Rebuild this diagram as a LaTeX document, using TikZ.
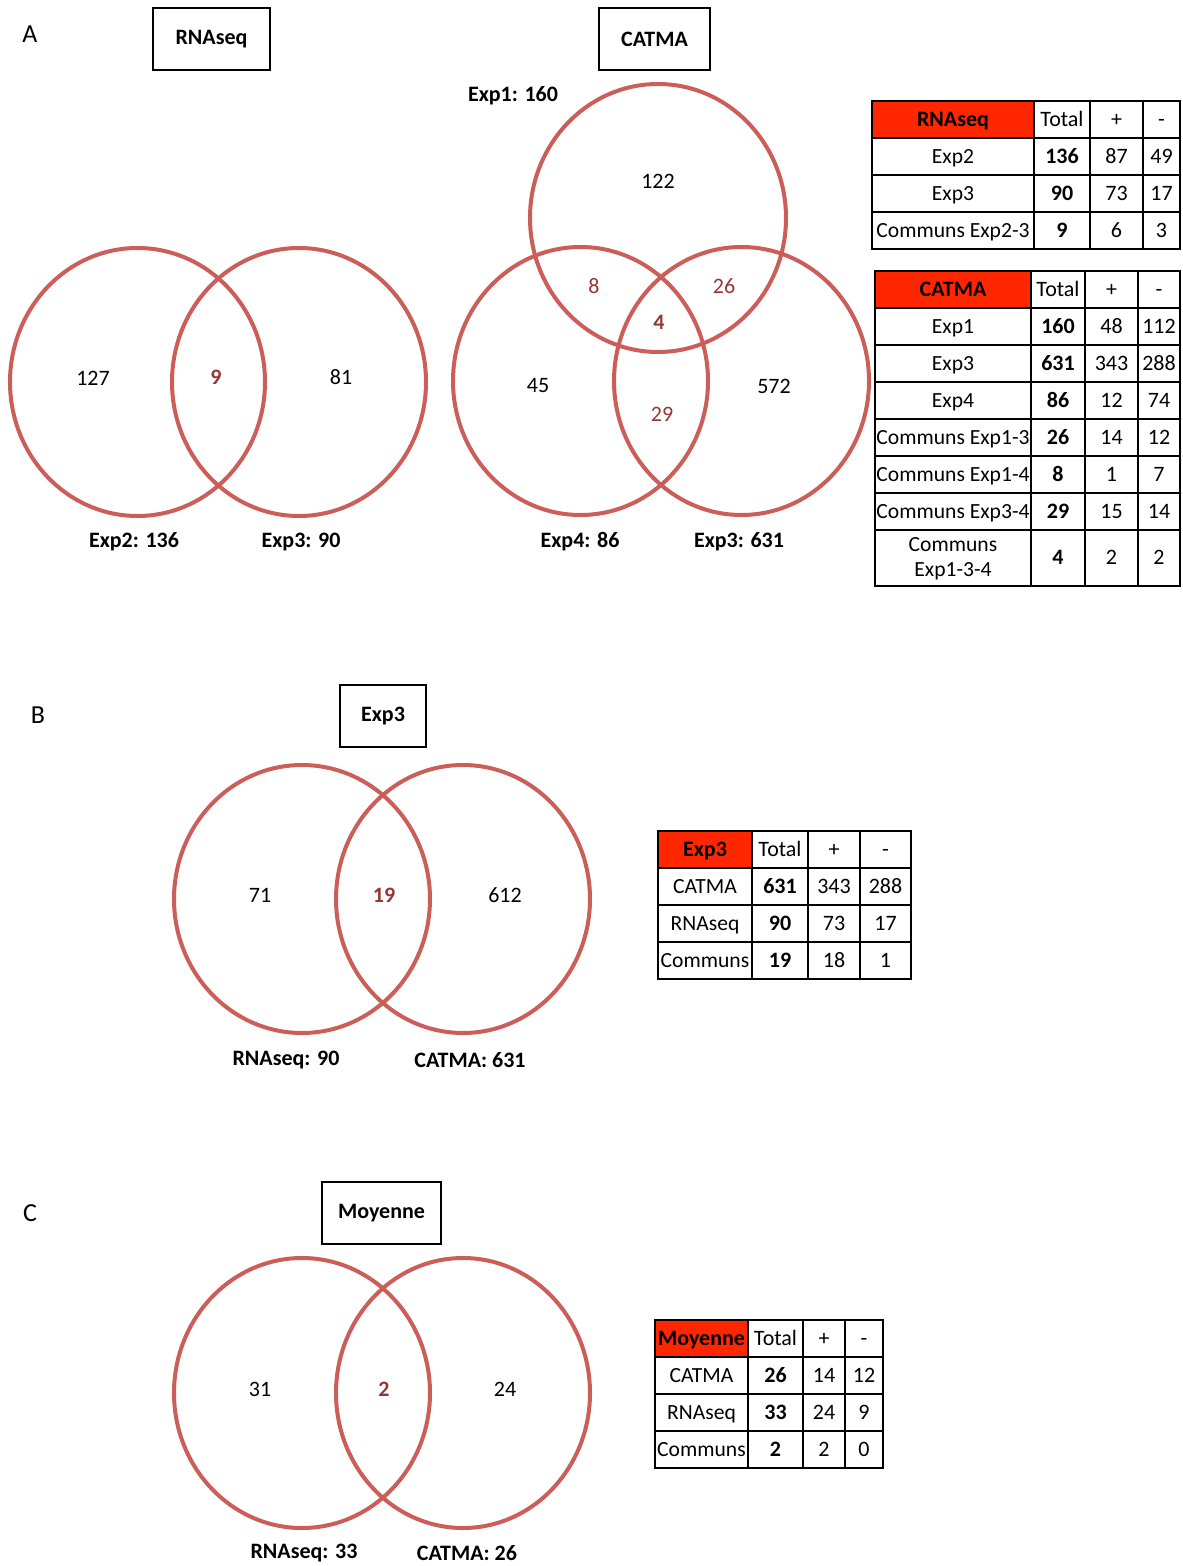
\documentclass[tikz,border=0pt]{standalone}
\usepackage{fontspec}
\setmainfont{Carlito}
\definecolor{vennline}{RGB}{203,94,89}
\definecolor{vennnum}{RGB}{149,55,53}
\definecolor{headred}{RGB}{255,38,0}

\tikzset{
  venn/.style={draw=vennline, line width=2pt},
  titlebox/.style={draw, line width=1pt, font=\bfseries, minimum height=31pt},
  setlabel/.style={font=\bfseries},
  inter/.style={text=vennnum},
  letter/.style={font=\fontsize{13}{15}\selectfont},
  tabline/.style={line width=1pt},
  cell/.style={text height=1.6ex, text depth=0.3ex, inner sep=0pt},
}

% ligne de tableau : colonnes \ca..\ce fixees avant chaque tableau
\newcommand{\headrow}[3]{%
  \fill[headred] (\ca,#1) rectangle (\cb,#2);
  \draw[tabline] (\ca,#1) rectangle (\ce,#2);
  \draw[tabline] (\cb,#1) -- (\cb,#2) (\cc,#1) -- (\cc,#2) (\cd,#1) -- (\cd,#2);
  \node[cell, font=\bfseries] at ({(\ca+\cb)/2},{(#1+#2)/2}) {#3};
  \node[cell] at ({(\cb+\cc)/2},{(#1+#2)/2}) {Total};
  \node[cell] at ({(\cc+\cd)/2},{(#1+#2)/2}) {+};
  \node[cell] at ({(\cd+\ce)/2},{(#1+#2)/2}) {-};
}
\newcommand{\cellrow}[6]{%
  \draw[tabline] (\ca,#1) rectangle (\ce,#2);
  \draw[tabline] (\cb,#1) -- (\cb,#2) (\cc,#1) -- (\cc,#2) (\cd,#1) -- (\cd,#2);
  \node[cell, font=\fontsize{10.8}{12.5}\selectfont] at ({(\ca+\cb)/2},{(#1+#2)/2}) {#3};
  \node[cell, font=\bfseries] at ({(\cb+\cc)/2},{(#1+#2)/2}) {#4};
  \node[cell] at ({(\cc+\cd)/2},{(#1+#2)/2}) {#5};
  \node[cell] at ({(\cd+\ce)/2},{(#1+#2)/2}) {#6};
}

\begin{document}
\fontsize{11}{12.5}\selectfont
\begin{tikzpicture}[x=0.5pt, y=-0.5pt]
    \useasboundingbox (0,0) rectangle (1182,1566);

    % ===== A =====
    \node[letter] (lettreA) at (30,34) {A};
    \node[titlebox, minimum width=58.5pt] (titreRna) at (211.5,39) {RNAseq};
    \node[titlebox, minimum width=55.5pt] (titreCatma) at (654.5,39) {CATMA};

    % Venn RNAseq
    \draw[venn] (137.5,382) ellipse [x radius=127.5, y radius=134];
    \draw[venn] (299,382) ellipse [x radius=127, y radius=134];
    \node (rnaA) at (93,378) {127};
    \node[inter, font=\bfseries] (rnaAB) at (216,377) {9};
    \node (rnaB) at (341,377) {81};
    \node[setlabel] (lblExp2) at (134,542) {Exp2: 136};
    \node[setlabel] (lblExp3r) at (301,542) {Exp3: 90};

    % Venn CATMA
    \draw[venn] (658,218) ellipse [x radius=128, y radius=134];
    \draw[venn] (580.5,381) ellipse [x radius=127.5, y radius=134];
    \draw[venn] (741.5,381) ellipse [x radius=127.5, y radius=134];
    \node (catE1) at (658,181) {122};
    \node[inter] (catE14) at (594,286) {8};
    \node[inter] (catE13) at (724,286) {26};
    \node[inter, font=\bfseries] (catE134) at (659,322) {4};
    \node (catE4) at (538,386) {45};
    \node (catE3) at (774,386) {572};
    \node[inter] (catE34) at (662,414) {29};
    \node[setlabel] (lblExp1) at (513,96) {Exp1: 160};
    \node[setlabel] (lblExp4) at (580,542) {Exp4: 86};
    \node[setlabel] (lblExp3c) at (739,542) {Exp3: 631};

    % Tableau RNAseq
    \def\ca{872}\def\cb{1034}\def\cc{1090}\def\cd{1143}\def\ce{1180}
    \headrow{101}{138}{RNAseq}
    \cellrow{138}{175}{Exp2}{136}{87}{49}
    \cellrow{175}{212}{Exp3}{90}{73}{17}
    \cellrow{212}{249}{Communs Exp2-3}{9}{6}{3}

    % Tableau CATMA
    \def\ca{875}\def\cb{1031}\def\cc{1085}\def\cd{1138}\def\ce{1180}
    \headrow{271}{308}{CATMA}
    \cellrow{308}{345}{Exp1}{160}{48}{112}
    \cellrow{345}{382}{Exp3}{631}{343}{288}
    \cellrow{382}{419}{Exp4}{86}{12}{74}
    \cellrow{419}{456}{Communs Exp1-3}{26}{14}{12}
    \cellrow{456}{493}{Communs Exp1-4}{8}{1}{7}
    \cellrow{493}{530}{Communs Exp3-4}{29}{15}{14}
    \cellrow{530}{586}{}{4}{2}{2}
    \node[align=center, inner sep=0pt, font=\fontsize{10.8}{12.5}\selectfont] (com134) at (953,559) {Communs\\Exp1-3-4};

    % ===== B =====
    \node[letter] (lettreB) at (38,715) {B};
    \node[titlebox, minimum width=43pt] (titreExp3) at (383,716) {Exp3};
    \draw[venn] (302,899) ellipse [x radius=128, y radius=134];
    \draw[venn] (463,899) ellipse [x radius=127, y radius=134];
    \node (bA) at (260,895) {71};
    \node[inter, font=\bfseries] (bAB) at (384,895) {19};
    \node (bB) at (505,895) {612};
    \node[setlabel] (lblRnaB) at (286,1060) {RNAseq: 90};
    \node[setlabel] (lblCatB) at (470,1060) {CATMA: 631};

    % Tableau Exp3
    \def\ca{658}\def\cb{752}\def\cc{808}\def\cd{860}\def\ce{911}
    \headrow{831}{868}{Exp3}
    \cellrow{868}{905}{CATMA}{631}{343}{288}
    \cellrow{905}{942}{RNAseq}{90}{73}{17}
    \cellrow{942}{979}{Communs}{19}{18}{1}

    % ===== C =====
    \node[letter] (lettreC) at (30,1213) {C};
    \node[titlebox, minimum width=59.5pt] (titreMoy) at (381.5,1213) {Moyenne};
    \draw[venn] (302,1393) ellipse [x radius=128, y radius=135];
    \draw[venn] (463,1393) ellipse [x radius=127, y radius=135];
    \node (cA) at (260,1389) {31};
    \node[inter, font=\bfseries] (cAB) at (384,1389) {2};
    \node (cB) at (505,1389) {24};
    \node[setlabel] (lblRnaC) at (304,1553) {RNAseq: 33};
    \node[setlabel] (lblCatC) at (467,1553) {CATMA: 26};

    % Tableau Moyenne
    \def\ca{655}\def\cb{748}\def\cc{803}\def\cd{845}\def\ce{883}
    \headrow{1320}{1357}{Moyenne}
    \cellrow{1357}{1394}{CATMA}{26}{14}{12}
    \cellrow{1394}{1431}{RNAseq}{33}{24}{9}
    \cellrow{1431}{1468}{Communs}{2}{2}{0}
\end{tikzpicture}
\end{document}
